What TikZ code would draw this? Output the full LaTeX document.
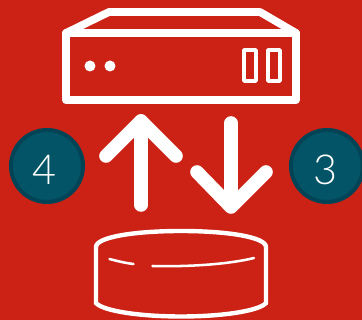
\documentclass[tikz,border=0pt]{standalone}
\usepackage{fontspec}
\setmainfont{Lato Light}
\definecolor{bg}{HTML}{CC2216}
\definecolor{badge}{HTML}{025466}
\definecolor{badgeline}{HTML}{024356}
\tikzset{
  px/.style={x=0.75pt,y=-0.75pt},
  icon/.style={draw=white,line cap=round,line join=round},
  badgenode/.style={circle,fill=badge,draw=badgeline,line width=3pt,minimum size=54pt,inner sep=0pt},
  digit/.style={text=white,inner sep=0pt,font=\fontsize{31}{31}\selectfont},
  arrowline/.style={icon,line width=10.2pt}
}
\begin{document}
\begin{tikzpicture}[px]
\useasboundingbox (0,0) rectangle (362,320);
\fill[bg] (0,0) rectangle (362,320);
% server
\draw[icon,line width=6pt] (66,33) rectangle (296,100);
\draw[icon,line width=5.8pt] (66,33) -- (109,12) -- (260,12) -- (296,33);
\fill[white] (90,66) circle (5.5);
\fill[white] (110,66) circle (5.5);
\draw[icon,line width=2.6pt] (244,50) rectangle (256,81);
\draw[icon,line width=2.6pt] (268,50) rectangle (280,81);
% arrows
\draw[arrowline] (141,205) -- (141,121);
\draw[arrowline] (106,156) -- (141,121) -- (176,156);
\draw[arrowline] (231,123) -- (231,206);
\draw[arrowline] (197,172) -- (231,207) -- (266,172);
% badges
\node[badgenode] (four) at (47,166) {};
\node[badgenode] (three) at (327,166) {};
\node[digit] (fourlabel) at (44.5,169.5) {4};
\node[digit] (threelabel) at (325,169.5) {3};
% cylinder
\draw[icon,line width=3.3pt] (96,303) -- (96,247) .. controls (96,237) and (135,231) .. (181,231) .. controls (227,231) and (266,237) .. (266,247) -- (266,303);
\draw[icon,line width=3.3pt] (96,303) .. controls (103,311) and (140,316.5) .. (181,316.5) .. controls (222,316.5) and (259,311) .. (266,303);
\draw[icon,line width=1.9pt] (109.5,259) .. controls (117,261) and (125,263) .. (133.5,264);
\draw[icon,line width=1.9pt] (152.5,266) .. controls (190,267) and (230,264) .. (254,258);
\end{tikzpicture}
\end{document}
